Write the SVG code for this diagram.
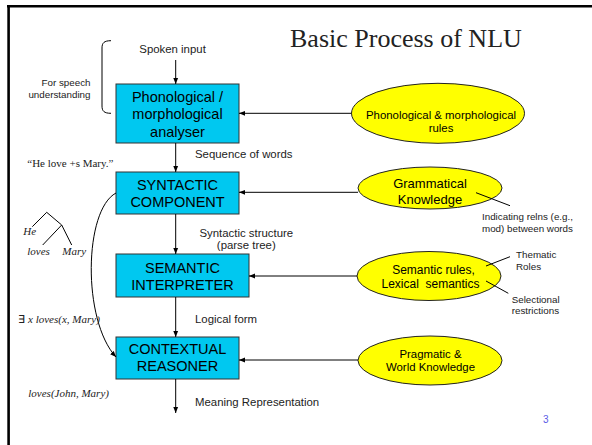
<svg xmlns="http://www.w3.org/2000/svg" width="592" height="445" viewBox="0 0 592 445">
  <style>
    .box { fill: #00c8f0; stroke: #333333; stroke-width: 1; }
    .oval { fill: #ffff00; stroke: #222222; stroke-width: 1; }
    .btxt { font-family: "Liberation Sans", Arial, sans-serif; font-size: 14.5px; fill: #000; text-anchor: middle; }
    .otxt { font-family: "Liberation Sans", Arial, sans-serif; fill: #000; text-anchor: middle; }
    .lbl { font-family: "Liberation Sans", Arial, sans-serif; font-size: 11.4px; fill: #222; }
    .note { font-family: "Liberation Sans", Arial, sans-serif; font-size: 9.8px; fill: #222; }
    .ser { font-family: "Liberation Serif", "Times New Roman", serif; fill: #222; }
    .it { font-family: "Liberation Serif", "Times New Roman", serif; font-style: italic; font-size: 11px; fill: #222; }
    .wire { fill: none; stroke: #000; stroke-width: 1; }
    .arr { fill: none; stroke: #000; stroke-width: 1; marker-end: url(#head); }
  </style>
  <defs>
    <marker id="head" viewBox="0 0 10 10" refX="10" refY="5" markerWidth="6" markerHeight="6" markerUnits="userSpaceOnUse" orient="auto">
      <path d="M0,1 L10,5 L0,9 Z" fill="#000"/>
    </marker>
  </defs>

  <rect width="592" height="445" fill="#ffffff"/>

  <!-- slide frame: top and left rules only -->
  <line x1="7" y1="6.2" x2="592" y2="6.2" stroke="#000" stroke-width="2.6"/>
  <line x1="8.6" y1="5" x2="8.6" y2="445" stroke="#000" stroke-width="2.6"/>

  <text x="290" y="47" class="ser" font-size="26">Basic Process of NLU</text>

  <!-- processing stages -->
  <g id="phono">
    <rect class="box" x="116" y="84" width="123" height="59"/>
    <text class="btxt" x="177.5" y="101.7">Phonological /</text>
    <text class="btxt" x="177.5" y="119.3">morphological</text>
    <text class="btxt" x="177.5" y="136.8">analyser</text>
  </g>
  <g id="syntactic">
    <rect class="box" x="116" y="172" width="123" height="42"/>
    <text class="btxt" x="177.5" y="190">SYNTACTIC</text>
    <text class="btxt" x="177.5" y="207">COMPONENT</text>
  </g>
  <g id="semantic">
    <rect class="box" x="116" y="254" width="133" height="43"/>
    <text class="btxt" x="182.5" y="272.5">SEMANTIC</text>
    <text class="btxt" x="182.5" y="290">INTERPRETER</text>
  </g>
  <g id="contextual">
    <rect class="box" x="116" y="337" width="123" height="42"/>
    <text class="btxt" x="177.5" y="353.5">CONTEXTUAL</text>
    <text class="btxt" x="177.5" y="371.3">REASONER</text>
  </g>

  <!-- knowledge sources -->
  <g id="phono-rules">
    <ellipse class="oval" cx="438" cy="113.3" rx="86.5" ry="30"/>
    <text class="otxt" x="441" y="118.5" font-size="11.4">Phonological &amp; morphological</text>
    <text class="otxt" x="441" y="131.5" font-size="11.4">rules</text>
  </g>
  <g id="grammar">
    <ellipse class="oval" cx="430" cy="188" rx="72" ry="21"/>
    <text class="otxt" x="430" y="188.3" font-size="13">Grammatical</text>
    <text class="otxt" x="430" y="203.5" font-size="13">Knowledge</text>
  </g>
  <g id="sem-rules">
    <ellipse class="oval" cx="429" cy="276" rx="72" ry="24.5"/>
    <text class="otxt" x="433.5" y="274" font-size="12">Semantic rules,</text>
    <text class="otxt" x="430.5" y="287.5" font-size="12" xml:space="preserve">Lexical  semantics</text>
  </g>
  <g id="pragmatic">
    <ellipse class="oval" cx="430" cy="360.5" rx="72" ry="24.5"/>
    <text class="otxt" x="430.5" y="358.3" font-size="11.4">Pragmatic &amp;</text>
    <text class="otxt" x="430.5" y="370.8" font-size="11.4">World Knowledge</text>
  </g>

  <!-- connectors -->
  <g id="connectors">
    <line class="arr" x1="175.7" y1="60" x2="175.7" y2="84"/>
    <line class="arr" x1="175.7" y1="143" x2="175.7" y2="172"/>
    <line class="arr" x1="175.7" y1="214" x2="175.7" y2="254"/>
    <line class="arr" x1="175.7" y1="297" x2="175.7" y2="337"/>
    <line class="arr" x1="175.7" y1="379" x2="175.7" y2="413"/>

    <line class="arr" x1="351.5" y1="113.3" x2="239" y2="113.3"/>
    <line class="arr" x1="358" y1="192.3" x2="239" y2="192.3"/>
    <line class="arr" x1="357" y1="276" x2="249" y2="276"/>
    <line class="arr" x1="358" y1="360" x2="239" y2="360"/>

    <path class="arr" d="M116,193 C84,210 82,320 116,357"/>

    <line class="wire" x1="476" y1="192.7" x2="510" y2="205.7"/>
    <line class="wire" x1="486" y1="266" x2="510" y2="256.7"/>
    <line class="wire" x1="486" y1="281" x2="508.3" y2="293.3"/>
  </g>

  <!-- speech bracket -->
  <path class="wire" d="M111,40.7 C104,40.7 102,43 102,48 L102,106 C102,111 104,113.3 111,113.3"/>

  <!-- stage output labels -->
  <text class="lbl" x="139.3" y="53.3">Spoken input</text>
  <text class="lbl" x="195" y="158.3">Sequence of words</text>
  <text class="lbl" x="246.3" y="236.7" text-anchor="middle">Syntactic structure</text>
  <text class="lbl" x="246.3" y="248.5" text-anchor="middle">(parse tree)</text>
  <text class="lbl" x="195" y="323.3">Logical form</text>
  <text class="lbl" x="195" y="406">Meaning Representation</text>

  <text class="note" x="90.5" y="86" text-anchor="end">For speech</text>
  <text class="note" x="90.5" y="98.3" text-anchor="end">understanding</text>

  <text class="note" x="482" y="220">Indicating relns (e.g.,</text>
  <text class="note" x="482" y="231.7">mod) between words</text>
  <text class="note" x="516" y="258.3">Thematic</text>
  <text class="note" x="516" y="270">Roles</text>
  <text class="note" x="511.7" y="303.3">Selectional</text>
  <text class="note" x="511.7" y="314">restrictions</text>

  <!-- example representations -->
  <text class="ser" x="27.3" y="166.7" font-size="11">“He love +s Mary.”</text>

  <g id="tree">
    <path class="wire" d="M32.3,226.7 L46.7,212.3 L61.7,225 M61.7,225 L42.7,245 M61.7,225 L71.7,245" stroke-width="0.9"/>
    <text class="it" x="23.3" y="235">He</text>
    <text class="it" x="27.3" y="255">loves</text>
    <text class="it" x="62.3" y="255">Mary</text>
  </g>

  <text class="it" x="18.3" y="323.3"><tspan font-style="normal" font-weight="normal">∃</tspan> x loves(x, Mary)</text>
  <text class="it" x="28.3" y="397.3">loves(John, Mary)</text>

  <text x="543" y="423" font-family="Liberation Sans, Arial, sans-serif" font-size="10" fill="#5a5ae6">3</text>
</svg>
